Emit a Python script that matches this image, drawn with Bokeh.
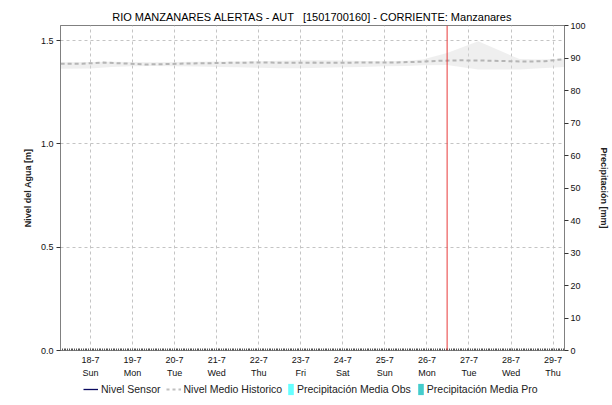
from bokeh.plotting import figure
from bokeh.layouts import column
from bokeh.models import (Range1d, LinearAxis, FixedTicker, Span, Legend, LegendItem,
                          ColumnDataSource, PrintfTickFormatter)
from bokeh.embed import file_html
from bokeh.resources import INLINE

TITLE = "RIO MANZANARES ALERTAS - AUT \u00a0 [1501700160] - CORRIENTE: Manzanares"

# x positions are day-of-month (July)
x_start, x_end = 17.287, 29.271
now_day = 26.48

day_ticks = [18, 19, 20, 21, 22, 23, 24, 25, 26, 27, 28, 29]
day_names = ["Sun", "Mon", "Tue", "Wed", "Thu", "Fri", "Sat", "Sun", "Mon", "Tue", "Wed", "Thu"]

level_ticks = [0.0, 0.5, 1.0, 1.5]
precip_ticks = [0, 10, 20, 30, 40, 50, 60, 70, 80, 90, 100]

# Nivel Medio Historico (m)
hist_x = [17.29, 17.8, 18.3, 18.8, 19.3, 19.8, 20.3, 20.8, 21.3, 21.8, 22.3, 22.8, 23.3,
          23.8, 24.3, 24.8, 25.3, 25.8, 26.3, 26.8, 27.3, 27.8, 28.3, 28.8, 29.27]
hist_y = [1.388, 1.388, 1.393, 1.389, 1.384, 1.386, 1.389, 1.390, 1.392, 1.393, 1.393, 1.392,
          1.393, 1.392, 1.393, 1.393, 1.394, 1.397, 1.402, 1.404, 1.403, 1.401, 1.398, 1.400, 1.410]

# historical range band (m)
band_x = [17.29, 18.0, 18.5, 19.0, 19.5, 20.0, 20.5, 21.0, 21.5, 22.0, 22.5, 23.0, 23.5,
          24.0, 24.5, 25.0, 25.5, 25.9, 26.48, 27.22, 28.2, 28.7, 29.27]
band_lo = [1.363, 1.365, 1.372, 1.375, 1.377, 1.376, 1.374, 1.372, 1.370, 1.368, 1.366, 1.366,
           1.368, 1.370, 1.372, 1.375, 1.377, 1.380, 1.382, 1.360, 1.360, 1.366, 1.372]
band_hi = [1.395, 1.396, 1.397, 1.396, 1.395, 1.396, 1.397, 1.398, 1.399, 1.400, 1.402, 1.404,
           1.405, 1.403, 1.401, 1.400, 1.402, 1.408, 1.440, 1.496, 1.410, 1.408, 1.412]

# Nivel Sensor and precipitation: no data in the period shown
sensor_x, sensor_y = [], []
precip_obs_x, precip_obs_y = [], []
precip_pro_x, precip_pro_y = [], []

FONT = "Liberation Sans"
AXIS_COL = "#808080"
SENSOR_COL = "#0a0a60"
HIST_COL = "#b5b5b5"
OBS_COL = "#66ffff"
PRO_COL = "#44cccc"

p = figure(width=612, height=382,
           x_range=Range1d(x_start, x_end), y_range=Range1d(0, 1.5726),
           output_backend="svg", toolbar_location=None, title=TITLE,
           min_border_left=60, min_border_right=48, min_border_top=25, min_border_bottom=32)
p.extra_y_ranges = {"precip": Range1d(0, 100)}

p.title.text_font = FONT
p.title.text_font_size = "11px"
p.title.text_font_style = "normal"
p.title.align = "center"
p.title.standoff = 5
p.title.text_color = "#000000"

p.outline_line_color = AXIS_COL
p.background_fill_color = "white"
p.border_fill_color = "white"

# band + lines
p.varea(x=band_x, y1=band_lo, y2=band_hi, fill_color="#d8d8d8", fill_alpha=0.42)
p.line(hist_x, hist_y, line_color=HIST_COL, line_width=2, line_dash="4 3")
p.line(x="x", y="y", source=ColumnDataSource(dict(x=sensor_x, y=sensor_y)),
       line_color=SENSOR_COL, line_width=1.5)
p.vbar(x="x", top="y", width=0.04, source=ColumnDataSource(dict(x=precip_obs_x, y=precip_obs_y)),
       fill_color=OBS_COL, line_color=OBS_COL, y_range_name="precip")
p.vbar(x="x", top="y", width=0.04, source=ColumnDataSource(dict(x=precip_pro_x, y=precip_pro_y)),
       fill_color=PRO_COL, line_color=PRO_COL, y_range_name="precip")

p.add_layout(Span(location=now_day, dimension="height", line_color="#e83a3a", line_width=1))

# x axis
minor = [x_start + k / 24.0 for k in range(int((x_end - x_start) * 24) + 1)]
xa = p.xaxis[0]
xa.ticker = FixedTicker(ticks=day_ticks, minor_ticks=minor)
xa.major_label_overrides = {d: f"{d}-7\n{n}" for d, n in zip(day_ticks, day_names)}
xa.major_label_text_font = FONT
xa.major_label_text_font_size = "9px"
xa.major_label_text_color = "#111111"
xa.major_label_text_line_height = 1.3
xa.major_label_standoff = 4
xa.major_tick_in = 0
xa.major_tick_out = 0
xa.minor_tick_in = 2
xa.minor_tick_out = 0
xa.minor_tick_line_color = "#555555"
xa.axis_line_color = AXIS_COL

# left axis
ya = p.yaxis[0]
ya.ticker = FixedTicker(ticks=level_ticks)
ya.formatter = PrintfTickFormatter(format="%.1f")
ya.axis_label = "Nivel del Agua [m]"
ya.axis_label_text_font = FONT
ya.axis_label_text_font_size = "9px"
ya.axis_label_text_font_style = "bold"
ya.axis_label_text_color = "#222222"
ya.axis_label_standoff = 5
ya.major_label_text_font = FONT
ya.major_label_text_font_size = "9px"
ya.major_label_text_color = "#111111"
ya.major_label_standoff = 3
ya.major_tick_in = 0
ya.major_tick_out = 4
ya.minor_tick_line_color = None
ya.axis_line_color = AXIS_COL
ya.major_tick_line_color = "#333333"

# right axis
ra = LinearAxis(y_range_name="precip", ticker=FixedTicker(ticks=precip_ticks),
                axis_label="Precipitación [mm]")
ra.axis_label_text_font = FONT
ra.axis_label_text_font_size = "9px"
ra.axis_label_text_font_style = "bold"
ra.axis_label_text_color = "#222222"
ra.axis_label_standoff = 10
ra.major_label_text_font = FONT
ra.major_label_text_font_size = "9px"
ra.major_label_text_color = "#111111"
ra.major_label_standoff = 2
ra.major_tick_in = 0
ra.major_tick_out = 4
ra.minor_tick_line_color = None
ra.axis_line_color = AXIS_COL
ra.major_tick_line_color = "#333333"
p.add_layout(ra, "right")

# grids
for g in (p.xgrid[0], p.ygrid[0]):
    g.grid_line_color = "#c4c4c4"
    g.grid_line_dash = "3 3"
    g.grid_line_width = 1

# legend strip below the chart (a bare figure holding only the legends);
# its renderers hold one dummy item placed entirely outside the strip so the
# legend glyphs get drawn. In the column its frame is aligned with the main frame.
lf = figure(width=612, height=18, x_range=Range1d(0, 1), y_range=Range1d(0, 1),
            output_backend="svg", toolbar_location=None,
            x_axis_location=None, y_axis_location=None,
            min_border_left=0, min_border_right=0, min_border_top=0, min_border_bottom=0)
lf.grid.visible = False
lf.outline_line_color = None
lf.background_fill_color = "white"
lf.border_fill_color = "white"
dummy_line = dict(x=[-6, -5], y=[-5, -5])
dummy_bar = dict(x=[-5], top=[-5], bottom=[-6])
l_sensor = lf.line(x="x", y="y", source=ColumnDataSource(dummy_line), line_color=SENSOR_COL, line_width=1.3)
l_hist = lf.line(x="x", y="y", source=ColumnDataSource(dummy_line), line_color="#c0c0c0",
                 line_width=2, line_dash="3 3")
l_obs = lf.vbar(x="x", top="top", bottom="bottom", width=0.1, source=ColumnDataSource(dummy_bar),
                fill_color=OBS_COL, line_color=None)
l_pro = lf.vbar(x="x", top="top", bottom="bottom", width=0.1, source=ColumnDataSource(dummy_bar),
                fill_color=PRO_COL, line_color=None)


def strip_legend(items, gw, standoff, spacing, loc):
    lg = Legend(items=items, orientation="horizontal", location=loc,
                glyph_width=gw, glyph_height=14, label_height=12,
                label_text_font=FONT, label_text_font_size="10.5px", label_text_color="#222222",
                label_standoff=standoff, spacing=spacing, padding=0, margin=0,
                border_line_alpha=0, background_fill_alpha=0)
    lf.add_layout(lg, "center")


strip_legend([LegendItem(label="Nivel Sensor", renderers=[l_sensor]),
              LegendItem(label="Nivel Medio Historico", renderers=[l_hist])], 15, 3, 5, (23, 4))
strip_legend([LegendItem(label="Precipitación Media Obs", renderers=[l_obs]),
              LegendItem(label="Precipitación Media Pro", renderers=[l_pro])], 7, 3, 6, (227, 4))

layout = column(p, lf)
open("out.html", "w").write(file_html(layout, INLINE))
